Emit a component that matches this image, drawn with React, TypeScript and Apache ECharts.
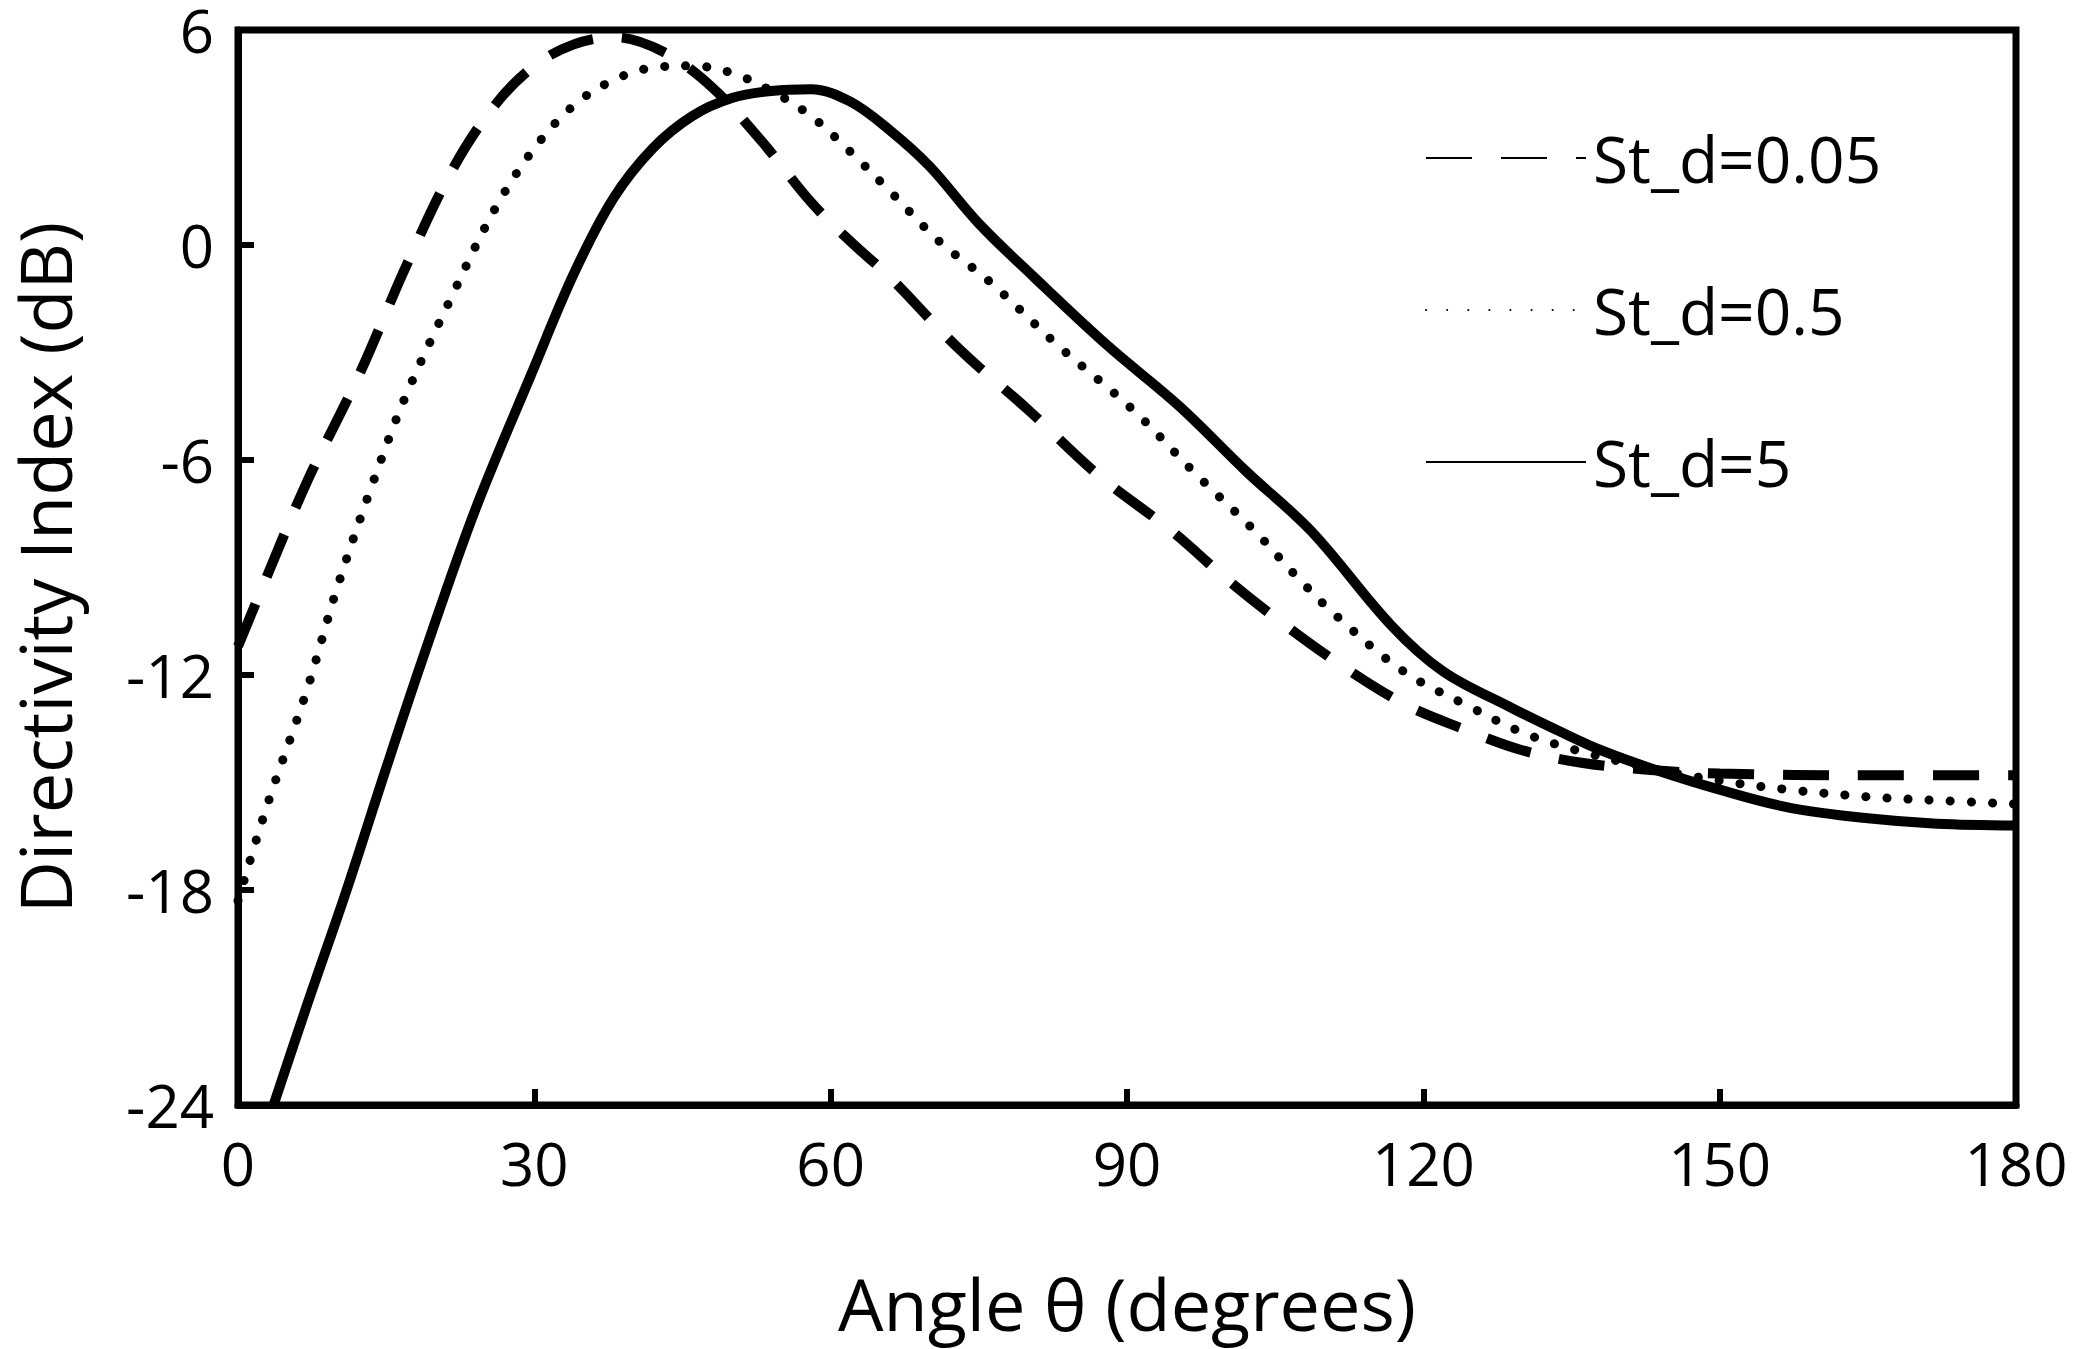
import React, { useEffect, useRef } from "react";
import * as echarts from "echarts";

const seriesNames = ["St_d=0.05", "St_d=0.5", "St_d=5"];
const dashed: [number, number][] = [
  [0, -11.2], [3, -9.2], [7, -6.6], [12.3, -3.6], [17, -0.6], [21.7, 2.1], [26, 3.9], [30, 5.0], [34, 5.6], [38, 5.8],
  [43, 5.4], [48, 4.4], [53, 2.9], [58, 1.2], [62, 0.1], [66, -0.9], [73, -2.9], [80, -4.6], [87, -6.4],
  [94.6, -8.0], [100, -9.3], [105, -10.4], [111, -11.6], [118, -12.8], [124, -13.5], [130, -14.1],
  [136, -14.45], [143, -14.65], [150, -14.75], [165, -14.8], [180, -14.8],
];
const dotted: [number, number][] = [
  [0, -18.3], [3, -15.6], [7, -12.4], [10, -9.6], [13.7, -6.6], [17, -4.2], [21.7, -1.4], [26, 1.0], [30, 2.7],
  [34, 3.9], [38, 4.6], [42, 4.95], [46, 5.0], [50, 4.8], [54, 4.3], [58, 3.6], [62, 2.6], [66, 1.5],
  [71, 0.1], [76, -1.0], [83, -2.8], [90.6, -4.6], [97, -6.4], [103, -8.0], [107, -9.2], [111, -10.3],
  [118, -11.9], [124.8, -12.9], [130, -13.6], [135.5, -14.1], [143, -14.6], [150, -14.95], [157, -15.2],
  [165, -15.4], [172, -15.5], [180, -15.6],
];
const solid: [number, number][] = [
  [3.6, -24], [7, -21.2], [11, -18], [15, -14.6], [19, -11.3], [24, -7.4], [29.7, -3.6], [34, -0.8], [38, 1.3],
  [42, 2.7], [46, 3.6], [50, 4.1], [54, 4.3], [58, 4.35], [62, 4.0], [66, 3.2], [70, 2.2], [75, 0.6],
  [80.6, -0.9], [88, -2.8], [95.3, -4.5], [102, -6.3], [108.7, -8.0], [116.7, -10.6], [122, -11.9],
  [128.8, -12.9], [134, -13.6], [138, -14.1], [143, -14.6], [150, -15.2], [157, -15.7], [165, -16.0],
  [172, -16.15], [180, -16.2],
];
const xTicks = [0, 30, 60, 90, 120, 150, 180];
const yTicks = [-24, -18, -12, -6, 0, 6];

const FONT = "'Open Sans', 'Liberation Sans', sans-serif";

export default function App() {
  const ref = useRef<HTMLDivElement>(null);
  useEffect(() => {
    const chart = echarts.init(ref.current!, undefined, { renderer: "svg" });
    const lineBase = { type: "line" as const, showSymbol: false, symbol: "none", smooth: 0.35, z: 3 };
    chart.setOption({
      animation: false,
      backgroundColor: "#fff",
      grid: { left: 236, right: 59, top: 24, bottom: 244, show: true, borderColor: "#000", borderWidth: 7 },
      legend: {
        orient: "vertical",
        left: 1420,
        top: 121,
        itemWidth: 160,
        itemHeight: 20,
        itemGap: 88,
        itemStyle: { opacity: 0 },
        textStyle: { fontFamily: FONT, fontSize: 64, color: "#000", padding: [0, 0, 0, 2] },
        data: seriesNames,
      },
      xAxis: {
        type: "value", min: 0, max: 180, interval: 30,
        axisLine: { show: true, onZero: false, lineStyle: { color: "#000", width: 7 } },
        axisTick: { show: true, inside: true, length: 16, lineStyle: { color: "#000", width: 6 } },
        splitLine: { show: false },
        axisLabel: { fontFamily: FONT, fontSize: 60, color: "#000", margin: 28, formatter: (v: number) => (xTicks.includes(v) ? String(v) : "") },
        name: "Angle θ (degrees)", nameLocation: "middle", nameGap: 162,
        nameTextStyle: { fontFamily: FONT, fontSize: 72, color: "#000" },
      },
      yAxis: {
        type: "value", min: -24, max: 6, interval: 6,
        axisLine: { show: true, onZero: false, lineStyle: { color: "#000", width: 7 } },
        axisTick: { show: true, inside: true, length: 16, lineStyle: { color: "#000", width: 6 } },
        splitLine: { show: false },
        axisLabel: { fontFamily: FONT, fontSize: 60, color: "#000", margin: 24, formatter: (v: number) => (yTicks.includes(v) ? String(v) : "") },
        name: "Directivity Index (dB)", nameLocation: "middle", nameGap: 158,
        nameTextStyle: { fontFamily: FONT, fontSize: 72, color: "#000" },
      },
      series: [
        { ...lineBase, name: seriesNames[0], data: dashed, lineStyle: { color: "#000", width: 10, type: [46, 29] }, itemStyle: { color: "#000" } },
        { ...lineBase, name: seriesNames[1], data: dotted, lineStyle: { color: "#000", width: 9, type: [0.1, 21], cap: "round" }, itemStyle: { color: "#000" } },
        { ...lineBase, name: seriesNames[2], data: solid, lineStyle: { color: "#000", width: 10 }, itemStyle: { color: "#000" } },
      ],
    });
    return () => chart.dispose();
  }, []);
  return <div ref={ref} style={{ position: "absolute", left: 0, top: 0, width: 2075, height: 1349 }} />;
}
